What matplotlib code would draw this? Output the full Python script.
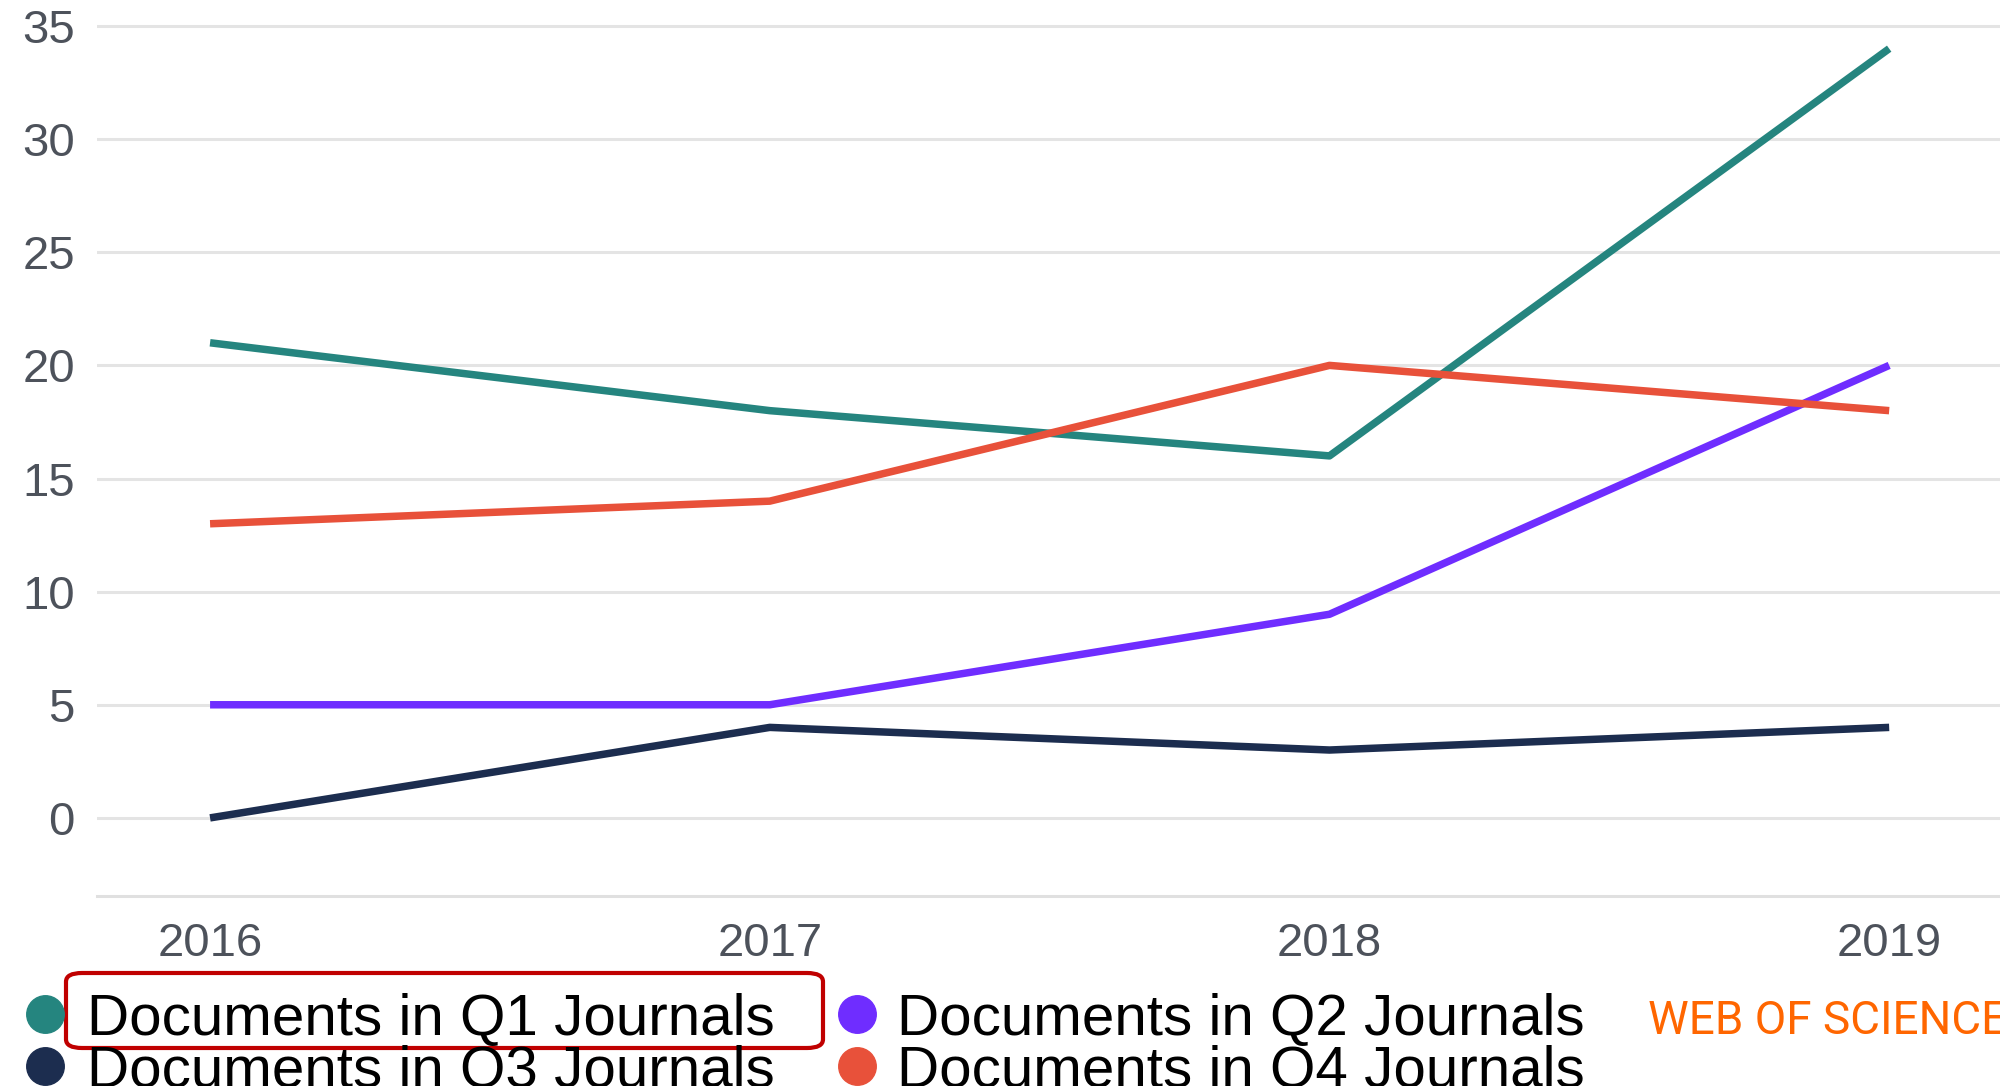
import matplotlib
matplotlib.use("Agg")
import matplotlib.pyplot as plt
from matplotlib.lines import Line2D
from matplotlib.patches import FancyBboxPatch

plt.rcParams["font.family"] = ["Liberation Sans", "DejaVu Sans"]

years = [2016, 2017, 2018, 2019]
q1_docs = [21, 18, 16, 34]
q2_docs = [5, 5, 9, 20]
q3_docs = [0, 4, 3, 4]
q4_docs = [13, 14, 20, 18]

series_names = [
    "Documents in Q1 Journals",
    "Documents in Q2 Journals",
    "Documents in Q3 Journals",
    "Documents in Q4 Journals",
]
series_values = [q1_docs, q2_docs, q3_docs, q4_docs]
series_colors = ["#25857f", "#6f2dff", "#1c2d4f", "#e8513a"]

y_ticks = [0, 5, 10, 15, 20, 25, 30, 35]

fig = plt.figure(figsize=(20, 10.86), dpi=100)
ax = fig.add_axes([0.0485, 0.175, 0.9515, 0.825])

for name, vals, color in zip(series_names, series_values, series_colors):
    ax.plot(years, vals, color=color, lw=5.4, solid_capstyle="butt",
            solid_joinstyle="round", label=name)

ax.set_xlim(2015.798, 2019.198)
ax.set_ylim(-3.45, 36.15)
ax.set_yticks(y_ticks)
ax.set_xticks(years)
ax.set_xticklabels([str(y) for y in years])
ax.grid(axis="y", color="#e4e4e4", lw=2.2)
ax.set_axisbelow(True)
for side in ["top", "right", "left"]:
    ax.spines[side].set_visible(False)
ax.spines["bottom"].set_color("#e0e0e0")
ax.spines["bottom"].set_linewidth(2.2)
ax.tick_params(axis="both", length=0, labelsize=34, labelcolor="#4d525b")
ax.tick_params(axis="y", pad=16)
ax.tick_params(axis="x", pad=19)

# legend, two columns: Q1/Q3 left, Q2/Q4 right
W, H = 2000.0, 1086.0
col_marker_x = [45, 857]
col_text_x = [87, 897]
row_y = [1014, 1066]
for i, (name, color) in enumerate(zip(series_names, series_colors)):
    col = i % 2
    row = i // 2
    fig.add_artist(Line2D([col_marker_x[col] / W], [1 - row_y[row] / H],
                          marker="o", markersize=27, color=color, lw=0,
                          transform=fig.transFigure))
    fig.text(col_text_x[col] / W, 1 - row_y[row] / H, name, fontsize=42,
             color="black", ha="left", va="center_baseline")

# red highlight box around the Q1 legend entry
box = FancyBboxPatch((66 / W, 1 - 1048 / H), (823 - 66) / W, (1048 - 973) / H,
                     boxstyle="round,pad=0,rounding_size=0.008",
                     transform=fig.transFigure, fill=False,
                     edgecolor="#c00000", lw=3)
fig.add_artist(box)

fig.text(1648 / W, 1 - 1016 / H, "WEB OF SCIENCE", fontsize=33,
         color="#ff6600", ha="left", va="center_baseline",
         family=["Roboto", "Liberation Sans", "DejaVu Sans"])

fig.savefig("out.png", dpi=100)
